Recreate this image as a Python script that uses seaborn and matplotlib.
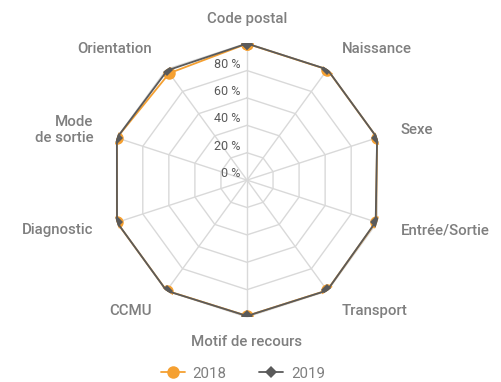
import numpy as np
import pandas as pd
import matplotlib.pyplot as plt
import seaborn as sns
from matplotlib.lines import Line2D

categories = ["Code postal", "Naissance", "Sexe", "Entrée/Sortie", "Transport",
              "Motif de recours", "CCMU", "Diagnostic", "Mode\nde sortie", "Orientation"]
values_2018 = [99.6, 99.8, 99.9, 99.0, 99.5, 99.1, 99.8, 99.9, 99.9, 96.5]
values_2019 = [99.7, 99.9, 99.9, 98.8, 99.6, 99.2, 99.9, 99.8, 99.9, 99.0]
years = ["2018", "2019"]
rings = [20, 40, 60, 80, 100]
ring_labels = ["0 %", "20 %", "40 %", "60 %", "80 %"]

orange = "#F5A031"
dark = "#5A5A5A"
grid_col = "#D9D9D9"
text_col = "#7F7F7F"

n = len(categories)
theta = np.linspace(0, 2 * np.pi, n, endpoint=False)
theta_closed = np.append(theta, 2 * np.pi)

sns.set_theme(style="white")
plt.rcParams["font.family"] = ["Roboto", "DejaVu Sans"]

fig = plt.figure(figsize=(5.01, 3.82), dpi=100)
ax = fig.add_axes([0.2195, 0.170, 0.547, 0.717], projection="polar")
ax.set_theta_zero_location("N")
ax.set_theta_direction(-1)
ax.set_ylim(0, 100)
ax.grid(False)
ax.spines["polar"].set_visible(False)
ax.set_xticks([])
ax.set_yticks([])

# polygon grid
for r in rings:
    ax.plot(theta_closed, [r] * (n + 1), color=grid_col, lw=1, zorder=1)
for t in theta:
    ax.plot([t, t], [0, 100], color=grid_col, lw=1, zorder=1)

styles = {"2018": dict(color=orange, marker="o", ms=9, z=3),
          "2019": dict(color=dark, marker="D", ms=6, z=4)}
handles = []
for year, vals in zip(years, [values_2018, values_2019]):
    st = styles[year]
    d = pd.DataFrame({"theta": theta_closed, "value": list(vals) + [vals[0]]})
    sns.lineplot(data=d, x="theta", y="value", sort=False, estimator=None,
                 color=st["color"], lw=1.3, ax=ax, zorder=st["z"],
                 marker=st["marker"], markersize=st["ms"],
                 markeredgecolor=st["color"], markeredgewidth=0)
    handles.append(Line2D([], [], color=st["color"], lw=1.3, marker=st["marker"],
                          markersize=st["ms"], markeredgewidth=0))

ax.set_xlabel("")
ax.set_ylabel("")

# radial tick labels
for r, lab in zip([0] + rings[:-1], ring_labels):
    ax.text(0, r, lab + "  ", ha="right", va="bottom", fontsize=9,
            color="#595959", zorder=5)

# category labels
for t, lab in zip(theta, categories):
    deg = np.degrees(t)
    if deg == 0 or deg == 180:
        ha = "center"
    elif deg < 180:
        ha = "left"
    else:
        ha = "right"
    ax.text(t, 118, lab, ha=ha, va="center", fontsize=10.8, color=text_col,
            multialignment="right", fontweight="medium")

fig.legend(handles, years, loc="center", bbox_to_anchor=(0.485, 0.022),
           ncol=2, frameon=False, fontsize=10.8, labelcolor=text_col,
           handlelength=1.6, columnspacing=2.2, handletextpad=0.5)

plt.savefig("out.png", dpi=100)
